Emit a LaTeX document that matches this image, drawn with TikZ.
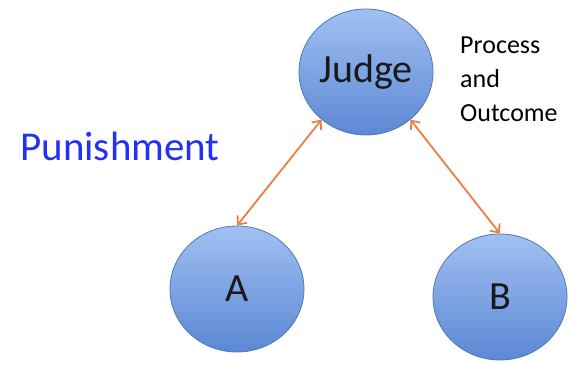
\documentclass[tikz,border=0pt]{standalone}
\usepackage{fontspec}
\setmainfont{Carlito}
\usetikzlibrary{shapes.geometric,arrows.meta}
\definecolor{ballTop}{HTML}{A2C0F2}
\definecolor{ballBot}{HTML}{5B88D4}
\definecolor{ballEdge}{HTML}{5275B5}
\definecolor{link}{HTML}{E97F45}
\definecolor{title}{HTML}{2430F2}
\tikzset{
    party/.style ={
        shape=ellipse,
        draw=ballEdge,
        line width=0.8pt,
        top color=ballTop,
        bottom color=ballBot,
        text=black!90,
        font=\fontsize{40}{44}\selectfont,
        minimum width=134pt,
        minimum height=126pt,
        inner sep=0pt
    },
    link/.style ={
        draw=link,
        line width=1.8pt,
        {Straight Barb[length=7pt,width=12pt]}-{Straight Barb[length=7pt,width=12pt]}
    }
}
\begin{document}
\begin{tikzpicture}[x=1pt,y=1pt]
    \useasboundingbox (0,0) rectangle (574,365);
    \node[party] (Judge) at(366,293) {Judge};
    \node[party] (A) at(237,76) {A};
    \node[party] (B) at(500,68) {B};
    \node[text=title,font=\fontsize{41}{46}\selectfont] (Punishment) at(120,219) {Punishment};
    \node[anchor=west,align=left,inner sep=0pt,font=\fontsize{26}{34}\selectfont] (Outcome) at(460,286) {Process\\and\\Outcome};
    \draw[link] (Judge.227) -- (A.north);
    \draw[link] (Judge.313) -- (B.north);
\end{tikzpicture}
\end{document}
